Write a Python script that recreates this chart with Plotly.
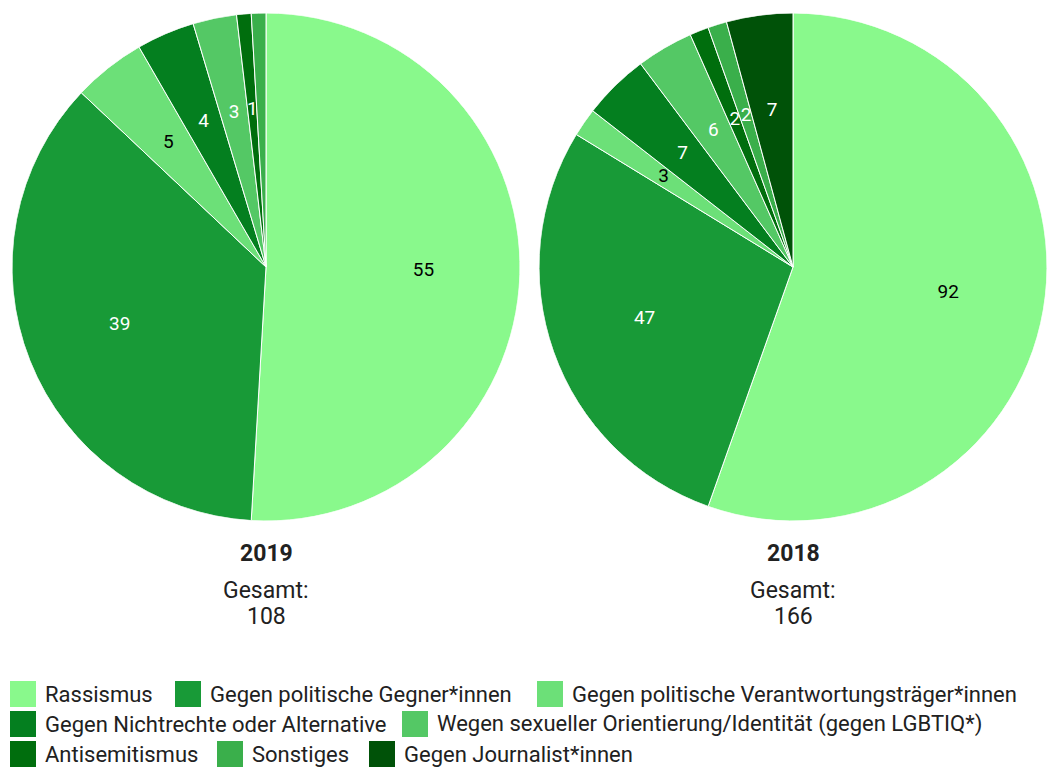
import plotly.graph_objects as go

categories = [
    "Rassismus",
    "Gegen politische Gegner*innen",
    "Gegen politische Verantwortungsträger*innen",
    "Gegen Nichtrechte oder Alternative",
    "Wegen sexueller Orientierung/Identität (gegen LGBTIQ*)",
    "Antisemitismus",
    "Sonstiges",
    "Gegen Journalist*innen",
]
values_2019 = [55, 39, 5, 4, 3, 1, 1, 0]
values_2018 = [92, 47, 3, 7, 6, 2, 2, 7]
show_label_2019 = [True, True, True, True, True, True, False, False]
show_label_2018 = [True] * 8
years = ["2019", "2018"]
totals = [108, 166]

colors = ["#89f98c", "#189a37", "#6ce078", "#047f1f", "#54c865", "#006e0d", "#3aaf4b", "#005208"]
text_colors = ["#000000", "#ffffff", "#000000", "#ffffff", "#ffffff", "#ffffff", "#ffffff", "#ffffff"]

W, H = 1047, 767
FONT = "Roboto"
INK = "#212121"

# pie boxes in pixels (left, right, top, bottom)
boxes = [(12, 520, 13, 521), (539, 1047, 13, 521)]

fig = go.Figure()

for i, (vals, show) in enumerate([(values_2019, show_label_2019), (values_2018, show_label_2018)]):
    l, r, t, b = boxes[i]
    dx = [l / W, min(r / W, 1.0)]
    dy = [1 - b / H, 1 - t / H]
    polar_name = "polar" if i == 0 else "polar2"
    total = sum(vals)

    # slices: one wedge per category, angles from cumulative values
    mids, widths, cols, cats = [], [], [], []
    lab_theta, lab_text, lab_col = [], [], []
    cum = 0
    for v, s, c, tc, name in zip(vals, show, colors, text_colors, categories):
        if v > 0:
            mids.append((cum + v / 2) / total * 360)
            widths.append(v / total * 360)
            cols.append(c)
            cats.append(name)
            if s:
                lab_theta.append((cum + v / 2) / total * 360)
                lab_text.append(str(v))
                lab_col.append(tc)
        cum += v

    fig.add_trace(go.Barpolar(
        r=[1] * len(mids),
        theta=mids,
        width=widths,
        base=0,
        marker=dict(color=cols, line=dict(color="#ffffff", width=1)),
        customdata=cats,
        hovertemplate="%{customdata}<extra></extra>",
        showlegend=False,
        subplot=polar_name,
    ))
    fig.add_trace(go.Scatterpolar(
        r=[0.62] * len(lab_theta),
        theta=lab_theta,
        text=lab_text,
        mode="text",
        textfont=dict(family=FONT, size=19, color=lab_col),
        showlegend=False,
        hoverinfo="skip",
        subplot=polar_name,
    ))
    fig.layout[polar_name] = dict(
        domain=dict(x=dx, y=dy),
        bgcolor="rgba(0,0,0,0)",
        hole=0,
        radialaxis=dict(visible=False, range=[0, 1], showgrid=False),
        angularaxis=dict(visible=False, rotation=90, direction="clockwise",
                         showgrid=False, showline=False),
    )

    cx = ((l + r) / 2) / W
    for txt, yc in [("<b>%s</b>" % years[i], 553), ("Gesamt:", 590), (str(totals[i]), 616)]:
        fig.add_annotation(x=cx, y=1 - yc / H, xref="paper", yref="paper",
                           xanchor="center", yanchor="middle",
                           text=txt, showarrow=False,
                           font=dict(family=FONT, size=23, color=INK))

# legend (three rows, as in the reference)
legend_rows = [[0, 1, 2], [3, 4], [5, 6, 7]]
legend_row_x = [[10, 175, 537], [10, 402], [10, 217, 369]]
legend_row_y = [694, 724, 754]
SQ = 26
for row, xs, yc in zip(legend_rows, legend_row_x, legend_row_y):
    for idx, x0 in zip(row, xs):
        fig.add_shape(type="rect", xref="paper", yref="paper",
                      x0=x0 / W, x1=(x0 + SQ) / W,
                      y0=1 - (yc + SQ / 2) / H, y1=1 - (yc - SQ / 2) / H,
                      fillcolor=colors[idx], line=dict(width=0))
        fig.add_annotation(x=(x0 + 33) / W, y=1 - yc / H, xref="paper", yref="paper",
                           xanchor="left", yanchor="middle", showarrow=False,
                           text=categories[idx],
                           font=dict(family=FONT, size=22, color=INK))

fig.update_layout(
    width=W, height=H,
    margin=dict(l=0, r=0, t=0, b=0),
    paper_bgcolor="#ffffff",
    plot_bgcolor="#ffffff",
    font=dict(family=FONT, color=INK),
    showlegend=False,
)

fig.write_html("out.html",
               config={"displayModeBar": False},
               post_script="document.body.style.margin='0';document.body.style.overflow='hidden';")
